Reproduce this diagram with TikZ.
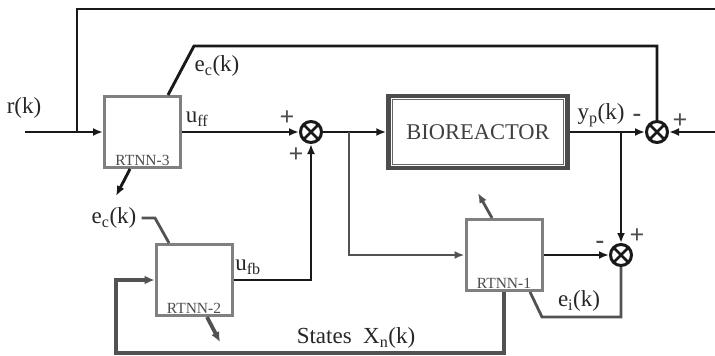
\documentclass[tikz,border=0pt]{standalone}
\usepackage{fontspec}
\setmainfont{Liberation Serif}
\usetikzlibrary{arrows.meta,calc,positioning}

\tikzset{
  sig/.style={draw=black!90, line width=2.9pt, -{Latex[length=10pt,width=8pt]}},
  gsig/.style={draw=black!68, line width=2.8pt, -{Latex[length=10pt,width=8pt]}},
  ssig/.style={draw=black!68, line width=3.8pt, -{Latex[length=10pt,width=9pt]}},
  plain/.style={-},
  rtnn/.style={draw=black!50, line width=3pt, minimum width=76pt, minimum height=71pt, inner sep=0pt},
  rtnnlbl/.style={text=black!70, font=\fontsize{15.5}{17}\selectfont, inner sep=1pt},
  lbl/.style={text=black!85, font=\fontsize{23}{26}\selectfont, inner sep=0pt},
  sgn/.style={text=black!70, font=\fontsize{26}{26}\selectfont\bfseries, inner sep=0pt},
  sumnode/.style={circle, draw=black!90, line width=3pt, minimum size=21pt, inner sep=0pt,
    path picture={
      \draw[black!90, line width=2.8pt] (path picture bounding box.north west) -- (path picture bounding box.south east);
      \draw[black!90, line width=2.8pt] (path picture bounding box.north east) -- (path picture bounding box.south west);
    }},
}

\begin{document}
\begin{tikzpicture}[x=1pt,y=-1pt]
  \useasboundingbox (0,0) rectangle (715,356);

  % Blocks
  \node[rtnn] (rtnn3) at (142.5,132) {};
  \node[rtnn] (rtnn1) at (504,255) {};
  \node[rtnn] (rtnn2) at (194,280) {};
  \node[rtnnlbl, above=2pt of rtnn3.south] (lbl3) {RTNN-3};
  \node[rtnnlbl, above=2pt of rtnn1.south] (lbl1) {RTNN-1};
  \node[rtnnlbl, above=2pt of rtnn2.south] (lbl2) {RTNN-2};

  % Bioreactor with double frame
  \node[draw=black!70, line width=4.5pt, minimum width=179pt, minimum height=72pt,
        text=black!75, font=\fontsize{22.5}{26}\selectfont] (bio) at (478,132) {BIOREACTOR};
  \draw[black!60, line width=1.2pt] ($(bio.north west)+(6,6)$) rectangle ($(bio.south east)+(-6,-6)$);

  % Summing junctions
  \node[sumnode] (sum1) at (311,132) {};
  \node[sumnode] (sum2) at (657,132) {};
  \node[sumnode] (sum3) at (621,255) {};

  % Free ends and branch points
  \coordinate (rin) at (25,132);
  \coordinate (tbr) at (77,132);
  \coordinate (tout) at (715,9);
  \coordinate (yin) at (715,132);
  \coordinate (ubr) at (349,132);
  \coordinate (ybr) at (621,132);
  \coordinate (w3) at (116,196);
  \coordinate (w1) at (478,193);
  \coordinate (w2) at (220,342);

  % Main loop
  \draw[sig] (rin) -- (rtnn3.west);
  \draw[sig,plain] (tbr) |- (tout);
  \draw[sig] (rtnn3.east) -- (sum1.west);
  \draw[sig] (sum1.east) -- (bio.west);
  \draw[sig] (bio.east) -- (sum2.west);
  \draw[sig] (yin) -- (sum2.east);
  \draw[sig,plain] (168,0 |- rtnn3.north) -- (194,46) -| (sum2.north);
  \draw[sig] (ybr) -- (sum3.north);
  \draw[sig] (rtnn2.east) -| (sum1.south);
  \draw[sig] (130,0 |- rtnn3.south) -- (w3);

  % Identifier loop
  \draw[gsig] (ubr) |- (rtnn1.west);
  \draw[sig] (rtnn1.east) -- (sum3.west);
  \draw[gsig,plain] (sum3.south) |- (542,317) -- (530,0 |- rtnn1.south);
  \draw[gsig] (492,0 |- rtnn1.north) -- (w1);

  % States to RTNN-2
  \draw[ssig] (rtnn1.south) |- (116,353) |- (rtnn2.west);
  \draw[ssig] (207,0 |- rtnn2.south) -- (w2);

  % Labels
  \node[lbl] (rlbl) at (24,108) {r(k)};
  \node[lbl] (eclbl) at (217,66) {e\textsubscript{c}(k)};
  \node[lbl] (uff) at (197,119) {u\textsubscript{ff}};
  \node[lbl] (yp) at (601,115) {y\textsubscript{p}(k)};
  \node[lbl] (ufb) at (248,267) {u\textsubscript{fb}};
  \node[lbl] (ei) at (579,301) {e\textsubscript{i}(k)};
  \node[lbl] (ec2) at (114,218) {e\textsubscript{c}(k)};
  \node[lbl] (states) at (356,338) {States\enspace X\textsubscript{n}(k)};
  \draw[gsig,plain] (ec2.east) ++(5,0) -- (155,218) -- (169,0 |- rtnn2.north);

  % Signs
  \node[sgn] (s1a) at (287,118) {+};
  \node[sgn] (s1b) at (296,155) {+};
  \node[sgn] (s2a) at (637,118) {-};
  \node[sgn] (s2b) at (680,121) {+};
  \node[sgn] (s3a) at (600,245) {-};
  \node[sgn] (s3b) at (637,236) {+};
\end{tikzpicture}
\end{document}
